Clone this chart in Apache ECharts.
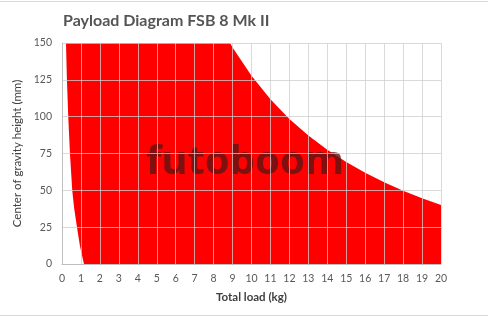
<!DOCTYPE html>
<html><head><meta charset="utf-8">
<script src="https://cdn.jsdelivr.net/npm/echarts@6/dist/echarts.min.js"></script>
<style>html,body{margin:0;padding:0;background:#fff}#c{width:488px;height:324px}</style>
</head><body><div id="c"></div>
<script>
// Left boundary of the permitted zone: [load kg, height mm]
var leftEdge = [[1.16,0],[0.95,12],[0.79,25],[0.64,38],[0.54,50],[0.42,75],[0.33,100],[0.26,125],[0.21,150]];
// Upper/right boundary: [load kg, height mm]
var rightEdge = [[8.87,150],[9,147],[10,127.7],[11,111.8],[12,98.5],[13,87.2],[14,77.6],[15,69.3],[16,62],[17,55.5],[18,49.8],[19,44.7],[20,40]];
var xTicks = [0,1,2,3,4,5,6,7,8,9,10,11,12,13,14,15,16,17,18,19,20];
var yTicks = [0,25,50,75,100,125,150];

var boundary = leftEdge.concat(rightEdge).concat([[20,0]]);
var FONT = 'Lato';
var chart = echarts.init(document.getElementById('c'));
chart.setOption({
  animation:false,
  title:{text:'Payload Diagram FSB 8 Mk II', left:58, top:8,
    textStyle:{fontFamily:FONT, fontWeight:'bold', fontSize:16, color:'#555555'}},
  grid:{left:62, right:47, top:43, bottom:60},
  xAxis:{type:'value', min:xTicks[0], max:xTicks[xTicks.length-1], interval:1, z:5,
    name:'Total load (kg)', nameLocation:'middle', nameGap:27,
    nameTextStyle:{fontFamily:FONT, fontSize:11.5, color:'#404040', fontWeight:'bold'},
    axisLine:{lineStyle:{color:'#bfbfbf'}}, axisTick:{show:false},
    axisLabel:{fontFamily:FONT, fontSize:10.5, color:'#595959', margin:9},
    splitLine:{show:true, lineStyle:{color:'rgba(205,205,205,0.75)', width:1}}},
  yAxis:{type:'value', min:yTicks[0], max:yTicks[yTicks.length-1], interval:25, z:5,
    name:'Center of gravity height (mm)', nameLocation:'middle', nameGap:30,
    nameTextStyle:{fontFamily:FONT, fontSize:11.5, color:'#404040'},
    axisLine:{show:true, lineStyle:{color:'#bfbfbf'}}, axisTick:{show:false},
    axisLabel:{fontFamily:FONT, fontSize:10.5, color:'#595959', margin:10},
    splitLine:{show:true, lineStyle:{color:'rgba(205,205,205,0.75)', width:1}}},
  graphic:[
    {type:'line', shape:{x1:0,y1:1.5,x2:488,y2:1.5}, style:{stroke:'#d9d9d9', lineWidth:1}, z:10},
    {type:'line', shape:{x1:0,y1:315.5,x2:488,y2:315.5}, style:{stroke:'#d9d9d9', lineWidth:1}, z:10},
    {type:'text', x:245, y:143, z:3, style:{text:'futoboom', fontFamily:'Noto Sans', fontWeight:'bold', fontSize:40, fill:'rgba(95,20,20,0.8)', textAlign:'center'}}
  ],
  series:[{
    type:'custom', z:2, clip:true,
    data:[[0,0]],
    renderItem:function(params, api){
      var pts = boundary.map(function(p){return api.coord(p);});
      return {type:'polygon', shape:{points:pts, smooth:0}, style:{fill:'#ff0000'}};
    }
  }]
});
</script></body></html>
